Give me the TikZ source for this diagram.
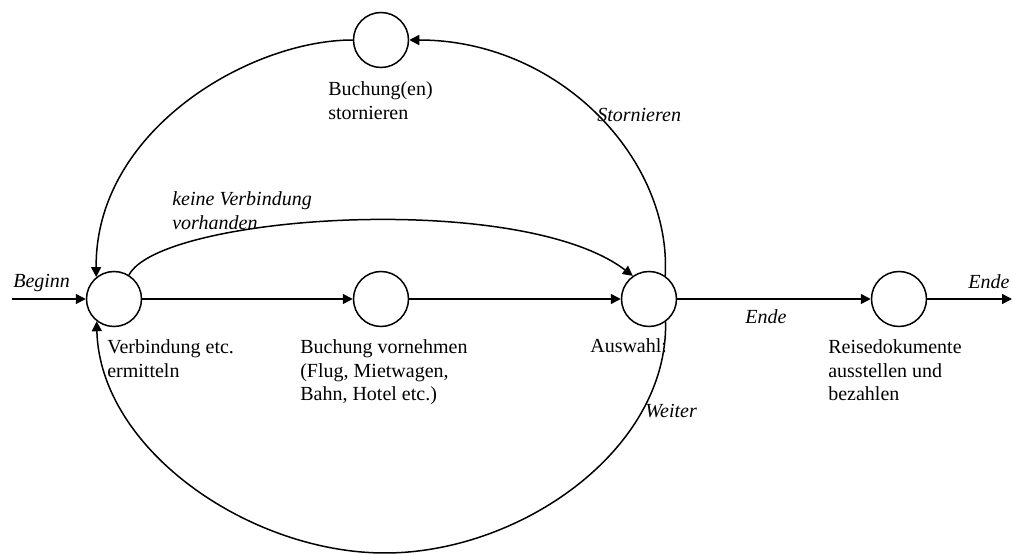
\documentclass[tikz,border=0pt]{standalone}
\usepackage{fontspec}
\setmainfont{Liberation Serif}
\usetikzlibrary{arrows.meta}
\begin{document}
\begin{tikzpicture}[x=0.6pt,y=-0.6pt,
  state/.style={circle,draw,line width=0.9pt,minimum size=33pt,inner sep=0pt},
  conn/.style={line width=0.9pt,-{Triangle[length=6pt,width=6pt]}},
  lbl/.style={anchor=north west,inner sep=0pt,align=left,font=\fontsize{12pt}{14.2pt}\selectfont},
  ilbl/.style={lbl,font=\fontsize{12pt}{14.2pt}\selectfont\itshape}]
\useasboundingbox (0,0) rectangle (1013,554);
\node[state] (c1) at (114,299) {};
\node[state] (c2) at (381,299) {};
\node[state] (c3) at (649,299) {};
\node[state] (c4) at (899,299) {};
\node[state] (top) at (381,40) {};
\coordinate (start) at (12,299);
\coordinate (finish) at (1012,299);
% straight connectors
\draw[conn] (start) -- (c1);
\draw[conn] (c1) -- (c2);
\draw[conn] (c2) -- (c3);
\draw[conn] (c3) -- (c4);
\draw[conn] (c4) -- (finish);
% keine Verbindung
\draw[conn] (c1.58) .. controls (160,215) and (520,190) .. (c3.125);
% Stornieren
\draw[conn] (c3.55) .. controls (672,160) and (560,40) .. (top.east);
% Buchung stornieren -> Verbindung
\draw[conn] (top.west) .. controls (250,40) and (95,130) .. (c1.129);
% Weiter
\draw[conn] (c3.-54) .. controls (668,450) and (520,553) .. (385,553)
  .. controls (250,553) and (100,450) .. (c1.-128);
% labels
\node[ilbl] (lBeginn) at (13,274.3) {Beginn};
\node[ilbl] (lEnde1) at (745,309.3) {Ende};
\node[ilbl] (lEnde2) at (968,274.3) {Ende};
\node[ilbl] (lKeine) at (172,191.3) {keine Verbindung\\vorhanden};
\node[ilbl] (lStorn) at (597,108.3) {Stornieren};
\node[ilbl] (lWeiter) at (645,404.3) {Weiter};
\node[lbl] (t1) at (107,339.3) {Verbindung etc.\\ermitteln};
\node[lbl] (t2) at (300,339.3) {Buchung vornehmen\\(Flug, Mietwagen,\\Bahn, Hotel etc.)};
\node[lbl] (t3) at (590,338.3) {Auswahl:};
\node[lbl] (t4) at (828,339.3) {Reisedokumente\\ausstellen und\\bezahlen};
\node[lbl] (t5) at (328,81.3) {Buchung(en)\\stornieren};
\end{tikzpicture}
\end{document}
